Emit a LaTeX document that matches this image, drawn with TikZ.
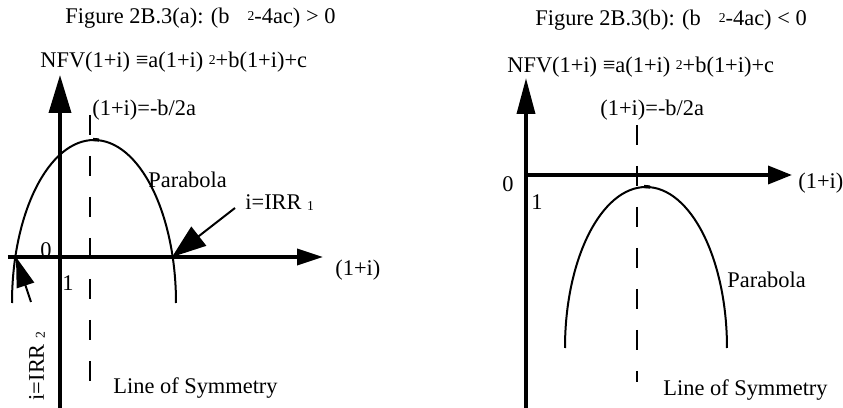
\documentclass[tikz,border=0pt]{standalone}
\usepackage{fontspec}
\setmainfont{Liberation Serif}
\usetikzlibrary{arrows.meta}
\newcommand{\smallsup}[1]{\raisebox{1.5pt}{\fontsize{6.8}{7}\selectfont #1}}
\newcommand{\smallsub}[1]{\raisebox{-0.5pt}{\fontsize{6.8}{7}\selectfont #1}}

\begin{document}
\begin{tikzpicture}[x=0.5pt, y=0.5pt, every node/.style={font=\fontsize{11.2}{13}\selectfont, inner sep=0pt},
  axis/.style={line width=1.8pt},
  curve/.style={line width=1pt},
  symline/.style={line width=1pt, dash pattern=on 10pt off 10.5pt},
  pointer/.style={line width=1pt, -{Triangle[length=17pt, width=12pt]}}]
  \useasboundingbox (0,0) rectangle (843,408);
  % left panel: (b^2-4ac) > 0
  \node[anchor=west] (titleA) at (65,390) {Figure 2B.3(a): (b\hspace{9pt}\smallsup{2}-4ac) > 0};
  \node[anchor=west] (nfvA) at (40,346) {NFV(1+i) ≡a(1+i) \smallsup{2}+b(1+i)+c};
  \node[anchor=west] (vertA) at (92,298) {(1+i)=-b/2a};
  \coordinate (yA0) at (60,-2);
  \coordinate (yA1) at (60,333);
  \coordinate (xA0) at (8,151);
  \coordinate (xA1) at (323,151);
  \draw[axis, -{Triangle[length=19pt, width=11pt]}] (yA0) -- (yA1);
  \draw[axis, -{Triangle[length=13pt, width=8pt]}] (xA0) -- (xA1);
  \coordinate (symA0) at (90,293);
  \coordinate (symA1) at (90,26);
  \draw[symline] (symA0) -- (symA1);
  \draw[curve] (12,105) arc[start angle=180, end angle=0, x radius=82, y radius=163];
  \draw[line width=1.6pt] (93,268.5) -- (99,268);
  \node (zeroA) at (46,158) {0};
  \node (oneA) at (68,125) {1};
  \node[anchor=west] (ratA) at (335,138) {(1+i)};
  \node[anchor=west] (parA) at (148,228) {Parabola};
  \node[anchor=west] (irrA) at (245,205) {i=IRR \smallsub{1}};
  \coordinate (rootA1) at (172,151);
  \coordinate (rootA2) at (16,151);
  \coordinate (tailA1) at (235,200);
  \coordinate (tailA2) at (31,106);
  \draw[pointer] (tailA1) -- (rootA1);
  \draw[pointer, -{Triangle[length=15pt, width=9pt]}] (tailA2) -- (rootA2);
  \node[rotate=90] (irrB) at (37,42) {i=IRR \smallsub{2}};
  \node[anchor=west] (lineA) at (113,20) {Line of Symmetry};
  % right panel: (b^2-4ac) < 0
  \node[anchor=west] (titleB) at (535,388) {Figure 2B.3(b): (b\hspace{9pt}\smallsup{2}-4ac) < 0};
  \node[anchor=west] (nfvB) at (507,341) {NFV(1+i) ≡a(1+i) \smallsup{2}+b(1+i)+c};
  \node[anchor=west] (vertB) at (600,298) {(1+i)=-b/2a};
  \coordinate (yB0) at (526,-2);
  \coordinate (yB1) at (526,330);
  \coordinate (xB0) at (526,233);
  \coordinate (xB1) at (792,233);
  \draw[axis, -{Triangle[length=18pt, width=9pt]}] (yB0) -- (yB1);
  \draw[axis, -{Triangle[length=12pt, width=9pt]}] (xB0) -- (xB1);
  \coordinate (symB0) at (637,283);
  \coordinate (symB1) at (637,26);
  \draw[symline] (symB0) -- (symB1);
  \draw[curve] (565,60) arc[start angle=180, end angle=0, x radius=81, y radius=161];
  \draw[line width=1.6pt] (644,221.5) -- (650,221);
  \node (zeroB) at (508,224) {0};
  \node (oneB) at (537,206) {1};
  \node[anchor=west] (ratB) at (798,225) {(1+i)};
  \node[anchor=west] (parB) at (727,128) {Parabola};
  \node[anchor=west] (lineB) at (663,18) {Line of Symmetry};
\end{tikzpicture}
\end{document}
